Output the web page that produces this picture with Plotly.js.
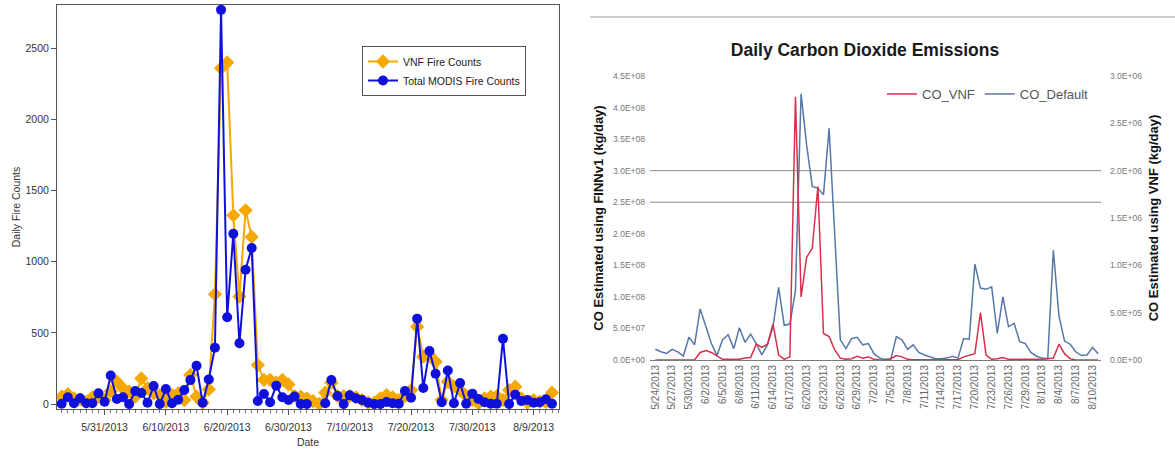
<!DOCTYPE html>
<html><head><meta charset="utf-8">
<script src="https://cdn.plot.ly/plotly-3.0.1.min.js"></script>
<style>html,body{margin:0;padding:0;background:#fff}#chart{width:1175px;height:450px}</style>
</head><body><div id="chart"></div>
<script>
const dates = [
'2013-05-24','2013-05-25','2013-05-26','2013-05-27','2013-05-28','2013-05-29','2013-05-30','2013-05-31',
'2013-06-01','2013-06-02','2013-06-03','2013-06-04','2013-06-05','2013-06-06','2013-06-07','2013-06-08','2013-06-09','2013-06-10',
'2013-06-11','2013-06-12','2013-06-13','2013-06-14','2013-06-15','2013-06-16','2013-06-17','2013-06-18','2013-06-19','2013-06-20',
'2013-06-21','2013-06-22','2013-06-23','2013-06-24','2013-06-25','2013-06-26','2013-06-27','2013-06-28','2013-06-29','2013-06-30',
'2013-07-01','2013-07-02','2013-07-03','2013-07-04','2013-07-05','2013-07-06','2013-07-07','2013-07-08','2013-07-09','2013-07-10',
'2013-07-11','2013-07-12','2013-07-13','2013-07-14','2013-07-15','2013-07-16','2013-07-17','2013-07-18','2013-07-19','2013-07-20',
'2013-07-21','2013-07-22','2013-07-23','2013-07-24','2013-07-25','2013-07-26','2013-07-27','2013-07-28','2013-07-29','2013-07-30','2013-07-31',
'2013-08-01','2013-08-02','2013-08-03','2013-08-04','2013-08-05','2013-08-06','2013-08-07','2013-08-08','2013-08-09','2013-08-10','2013-08-11','2013-08-12'];

const vnfFireCounts = [52,70,40,33,16,47,52,28,90,157,110,87,52,180,110,75,63,16,63,75,28,204,52,9,103,772,2360,2400,1326,755,1361,1174,274,170,170,150,169,138,56,52,40,20,0,80,150,56,56,56,47,28,9,9,40,63,47,28,56,98,543,333,344,297,28,157,122,98,56,28,5,40,52,56,28,98,122,40,9,28,16,16,80];

const modisFireCounts = [2,47,5,40,5,5,75,16,201,35,47,0,91,77,9,126,0,105,5,30,98,168,269,9,173,396,2770,610,1197,427,944,1096,21,70,12,129,47,28,52,0,0,null,null,5,169,56,0,61,40,28,9,0,0,14,5,2,91,44,600,112,372,213,12,236,5,148,2,73,35,12,2,2,459,0,66,21,28,9,12,33,2];

// CO estimated with FINNv1 (kg/day), left axis of right chart
const coDefault = [1.7e7,1.3e7,1.05e7,1.7e7,1.3e7,6.3e6,3.6e7,2.4e7,8.1e7,5.3e7,2.6e7,7e6,3.2e7,4.0e7,1.8e7,5.1e7,2.8e7,4.1e7,2.6e7,8e6,2.4e7,5.3e7,1.15e8,5.5e7,5.7e7,1.1e8,4.22e8,3.4e8,2.75e8,2.72e8,2.62e8,3.67e8,1.95e8,3.2e7,1.8e7,3.4e7,3.6e7,2.4e7,2.6e7,1e7,3e6,1e6,1e6,3.7e7,3.2e7,1.7e7,2.4e7,1.2e7,8e6,5e6,2e6,2e6,3e6,6e6,3e6,3.4e7,3.3e7,1.52e8,1.14e8,1.12e8,1.16e8,4.2e7,1.0e8,5.3e7,5.8e7,2.9e7,2.6e7,1.2e7,6e6,3e6,2e6,1.74e8,7e7,3e7,2.5e7,1.3e7,7e6,8e6,2e7,1e7];

// CO estimated with VNF (kg/day), right axis of right chart
const coVnf = [0,0,0,0,0,0,0,0,8e4,1.0e5,8e4,4e4,7e3,7e3,7e3,7e3,2e4,2.7e4,1.67e5,1.33e5,1.67e5,3.8e5,5.3e4,7e3,3.3e4,2.78e6,6.67e5,1.087e6,1.18e6,1.833e6,2.8e5,2.47e5,1.07e5,2e4,7e3,1.3e4,4e4,2e4,3.3e4,7e3,0,0,1.3e4,4.7e4,3.3e4,7e3,3e3,3e3,3e3,3e3,3e3,3e3,3e3,3e3,3e3,3.3e4,5.3e4,6.7e4,5.0e5,5.3e4,7e3,1.3e4,2.7e4,7e3,7e3,7e3,7e3,7e3,0,7e3,1.3e4,2e4,1.67e5,6.7e4,1.3e4,0,0,0,0,0];

const leftTickVals = [0,5e7,1e8,1.5e8,2e8,2.5e8,3e8,3.5e8,4e8,4.5e8];
const leftTickText = ['0.0E+00','5.0E+07','1.0E+08','1.5E+08','2.0E+08','2.5E+08','3.0E+08','3.5E+08','4.0E+08','4.5E+08'];
const rightTickVals = [0,5e5,1e6,1.5e6,2e6,2.5e6,3e6];
const rightTickText = ['0.0E+00','5.0E+05','1.0E+06','1.5E+06','2.0E+06','2.5E+06','3.0E+06'];
const gridLevels = [3e8, 2.5e8];

const coDates = dates.slice(0, coDefault.length);

const W = 1175, H = 450;
const px = v => v / W;
const py = v => 1 - v / H;
const DAY = 86400000;

const traces = [
  {x: dates, y: vnfFireCounts, name: 'VNF Fire Counts', type: 'scatter', mode: 'lines+markers',
   xaxis: 'x', yaxis: 'y', legend: 'legend',
   line: {color: '#F5A800', width: 2}, marker: {symbol: 'diamond', size: 11, color: '#F5A800'}},
  {x: dates, y: modisFireCounts, name: 'Total MODIS Fire Counts', type: 'scatter', mode: 'lines+markers',
   xaxis: 'x', yaxis: 'y', legend: 'legend', connectgaps: false,
   line: {color: '#1010DD', width: 2}, marker: {symbol: 'circle', size: 10, color: '#1010DD'}},
  {x: coDates, y: coVnf, name: 'CO_VNF', type: 'scatter', mode: 'lines',
   xaxis: 'x2', yaxis: 'y3', legend: 'legend2',
   line: {color: '#D8304A', width: 1.5}},
  {x: coDates, y: coDefault, name: 'CO_Default', type: 'scatter', mode: 'lines',
   xaxis: 'x2', yaxis: 'y2', legend: 'legend2',
   line: {color: '#5677A8', width: 1.5}}
];

const shapes = gridLevels.map(v => ({type: 'line', xref: 'x2 domain', yref: 'y2', x0: 0, x1: 1, y0: v, y1: v,
  line: {color: '#8a8a8a', width: 1}, layer: 'below'}));
shapes.push({type: 'line', xref: 'paper', yref: 'paper', x0: px(590), x1: 1, y0: py(17), y1: py(17),
  line: {color: '#9a9a9a', width: 1}});

const layout = {
  width: W, height: H, margin: {l: 0, r: 0, t: 0, b: 0},
  paper_bgcolor: '#ffffff', plot_bgcolor: '#ffffff',
  font: {family: 'Liberation Sans, Arial, sans-serif', color: '#333'},
  showlegend: true,
  title: {text: 'Daily Carbon Dioxide Emissions', x: px(865), y: py(50), xref: 'paper', yref: 'paper',
    xanchor: 'center', yanchor: 'middle', font: {size: 17.5, color: '#1a1a1a', weight: 'bold'}},
  xaxis: {domain: [px(57), px(559)], anchor: 'y', type: 'date',
    range: ['2013-05-23 05:36', '2013-08-13 03:22'], tick0: '2013-05-31', dtick: 10 * DAY,
    tickformat: '%-m/%-d/%Y', ticks: 'outside', ticklen: 5, tickcolor: '#555',
    showline: true, mirror: true, linecolor: '#555', linewidth: 1, showgrid: false, zeroline: false,
    tickfont: {size: 10.5, color: '#333'}, ticklabelstandoff: 3,
    minor: {dtick: DAY, ticks: 'outside', ticklen: 3, tickcolor: '#777', showgrid: false},
    title: {text: 'Date', font: {size: 10.5, color: '#333'}, standoff: 7}},
  yaxis: {domain: [py(409), py(5)], anchor: 'x', range: [-35, 2804], tick0: 0, dtick: 500,
    ticks: 'outside', ticklen: 5, tickcolor: '#555', showline: true, mirror: true, linecolor: '#555',
    showgrid: false, zeroline: false, tickfont: {size: 10.5, color: '#333'},
    title: {text: 'Daily Fire Counts', font: {size: 10.5, color: '#333'}, standoff: 2}},
  xaxis2: {domain: [px(650), px(1101)], anchor: 'y2', type: 'date',
    range: ['2013-05-23 01:17', '2013-08-11 12:00'], tick0: '2013-05-24', dtick: 3 * DAY,
    tickformat: '%-m/%-d/%Y', tickangle: -90, ticks: '', showline: true, linecolor: '#7a7a7a',
    showgrid: false, zeroline: false, tickfont: {size: 10, color: '#666'}},
  yaxis2: {domain: [py(360), py(76)], anchor: 'x2', range: [0, 4.5e8], tickmode: 'array',
    tickvals: leftTickVals, ticktext: leftTickText, ticks: '', showline: false, showgrid: false,
    zeroline: false, tickfont: {size: 8.5, color: '#777'}, ticklabelstandoff: 4,
    title: {text: 'CO Estimated using FINNv1 (kg/day)', font: {size: 13, color: '#111', weight: 'bold'}, standoff: 6}},
  yaxis3: {overlaying: 'y2', side: 'right', anchor: 'x2', range: [0, 3e6], tickmode: 'array',
    tickvals: rightTickVals, ticktext: rightTickText, ticks: '', showline: false, showgrid: false,
    zeroline: false, tickfont: {size: 8.5, color: '#777'}, ticklabelstandoff: 8,
    title: {text: 'CO Estimated using VNF (kg/day)', font: {size: 13, color: '#111', weight: 'bold'}, standoff: 7}},
  legend: {x: px(362), y: py(46), xanchor: 'left', yanchor: 'top', bordercolor: '#555', borderwidth: 1,
    bgcolor: '#ffffff', font: {size: 10.5, color: '#222'}, tracegroupgap: 0},
  legend2: {orientation: 'h', x: px(882), y: py(79), xanchor: 'left', yanchor: 'top',
    bgcolor: 'rgba(0,0,0,0)', font: {size: 13, color: '#555'}},
  shapes: shapes
};

Plotly.newPlot('chart', traces, layout, {displayModeBar: false, staticPlot: true});
</script>
</body></html>
